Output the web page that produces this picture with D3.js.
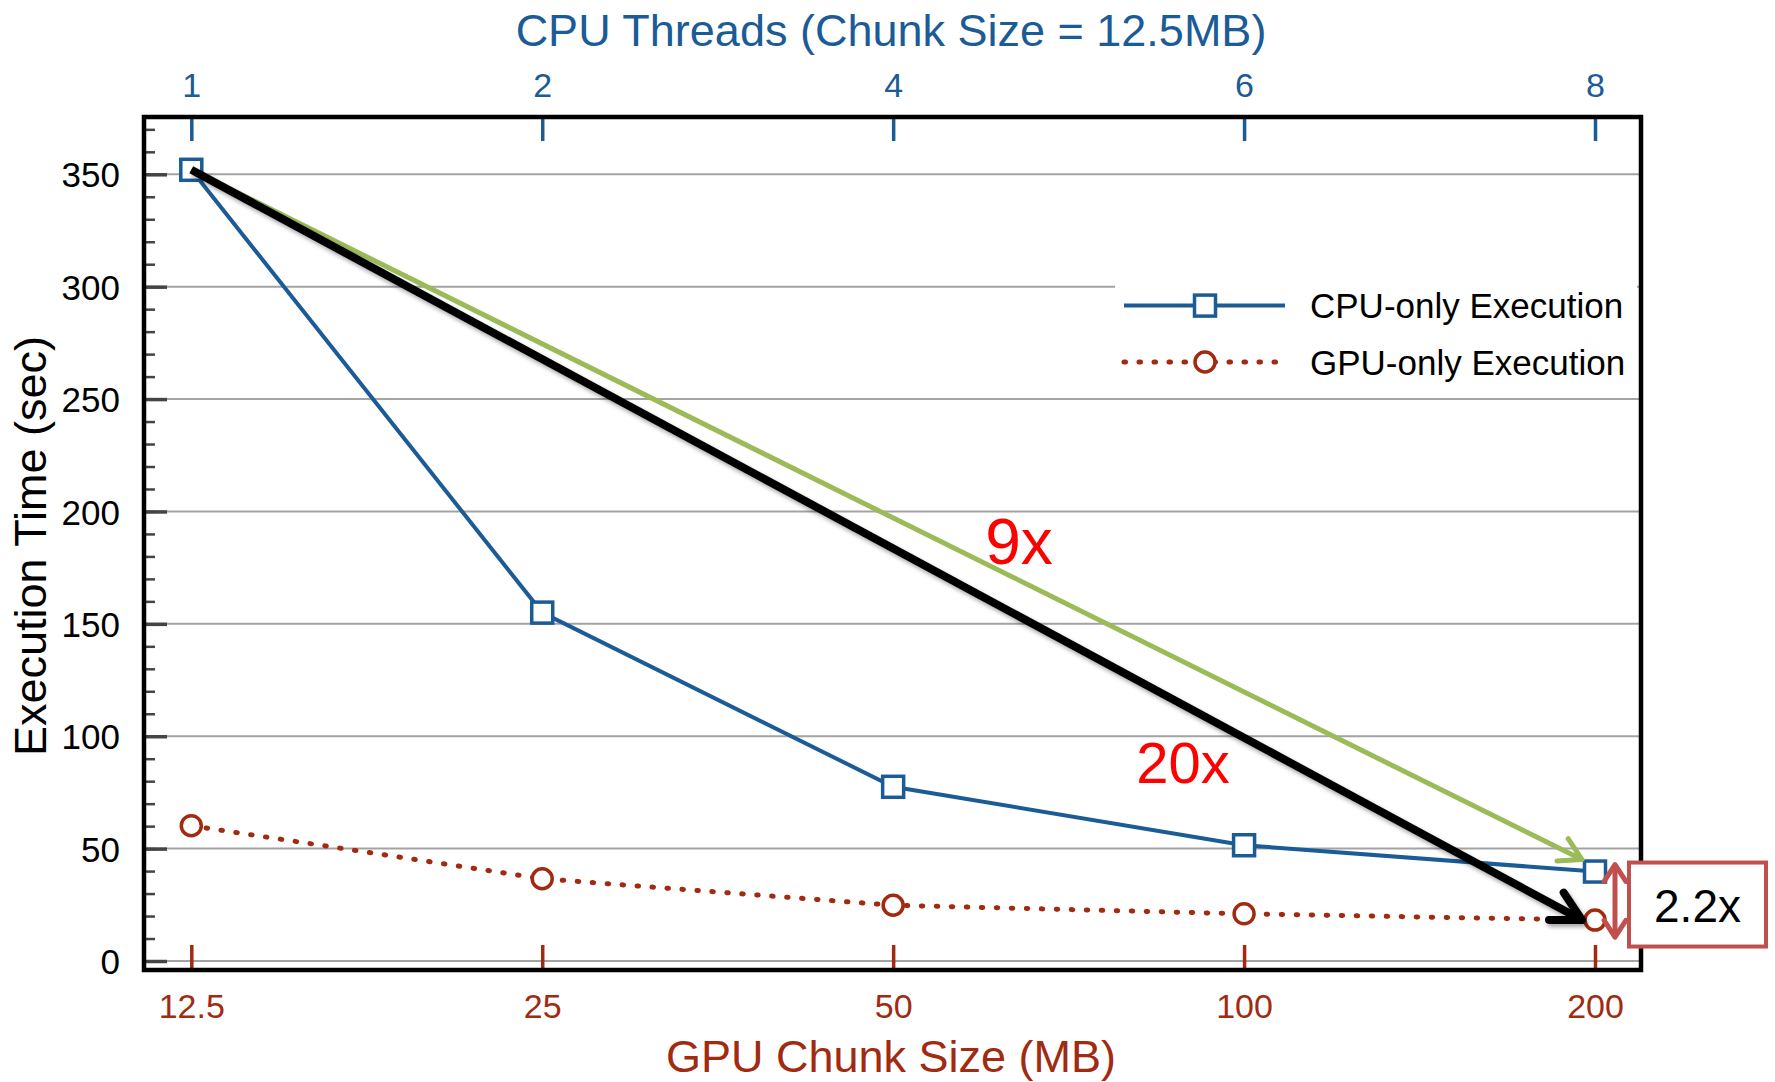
<!DOCTYPE html>
<html>
<head>
<meta charset="utf-8">
<script src="https://cdn.jsdelivr.net/npm/d3@7"></script>
<style>
  html, body { margin: 0; padding: 0; background: #ffffff; }
  svg { display: block; }
  text { font-family: "Liberation Sans", Arial, Helvetica, sans-serif; }
</style>
</head>
<body>
<svg id="chart" width="1775" height="1082"></svg>
<script>
// ---- data ----
const gpuChunkSizes = ["12.5", "25", "50", "100", "200"];   // bottom axis
const cpuThreads    = ["1", "2", "4", "6", "8"];            // top axis
const cpuOnlyTimes  = [352, 155, 77.5, 51.5, 39.8];         // CPU-only Execution (sec)
const gpuOnlyTimes  = [60.2, 36.6, 24.8, 21.0, 18.2];       // GPU-only Execution (sec)
const yMajorTicks   = [0, 50, 100, 150, 200, 250, 300, 350];
const yMinorTicks   = d3.range(0, 371, 10);
const seriesNames   = ["CPU-only Execution", "GPU-only Execution"];
const annotations   = { cpuSpeedup: "9x", gpuSpeedup: "20x", gap: "2.2x" };

// ---- layout ----
const frame = { left: 144, right: 1641, top: 117, bottom: 970 };
const blue = "#1b5b96", brown = "#a12a10", green = "#9bbb59", redA = "#c0504d";

const svg = d3.select("#chart");
const defs = svg.append("defs");
const f = defs.append("filter").attr("id", "shadow").attr("x", "-10%").attr("y", "-10%").attr("width", "120%").attr("height", "120%");
f.append("feDropShadow").attr("dx", 2).attr("dy", 3).attr("stdDeviation", 2).attr("flood-color", "#000").attr("flood-opacity", 0.35);

const xBottom = d3.scalePoint().domain(gpuChunkSizes).range([191.3, 1595]);
const xTop = d3.scalePoint().domain(cpuThreads).range([191.3, 1595]);
const y = d3.scaleLinear().domain([0, 350]).range([961, 174.3]);

// gridlines
svg.append("g").selectAll("line").data(yMajorTicks).join("line")
  .attr("x1", frame.left).attr("x2", frame.right)
  .attr("y1", d => y(d)).attr("y2", d => y(d))
  .attr("stroke", "#a3a3a3").attr("stroke-width", 2);

// legend background (hides the gridline behind it)
const legend = svg.append("g");
legend.append("rect").attr("x", 1115).attr("y", 268).attr("width", 522).attr("height", 124).attr("fill", "#fff");

// left axis major + minor (inward ticks)
const gLeftMinor = svg.append("g").attr("transform", `translate(${frame.left},0)`)
  .call(d3.axisLeft(y).tickValues(yMinorTicks).tickSize(-11).tickFormat(""));
gLeftMinor.select(".domain").remove();
gLeftMinor.selectAll("line").attr("stroke", "#444").attr("stroke-width", 2.5);

const gLeft = svg.append("g").attr("transform", `translate(${frame.left},0)`)
  .call(d3.axisLeft(y).tickValues(yMajorTicks).tickSize(-23).tickPadding(24));
gLeft.select(".domain").remove();
gLeft.selectAll("line").attr("stroke", "#444").attr("stroke-width", 3.5);
gLeft.selectAll("text").attr("font-size", 35).attr("fill", "#000").attr("font-family", "Liberation Sans, Arial, sans-serif").attr("dy", "0.36em");

// top axis (CPU threads)
const gTop = svg.append("g").attr("transform", `translate(0,${frame.top})`)
  .call(d3.axisTop(xTop).tickSize(-24).tickPadding(20));
gTop.select(".domain").remove();
gTop.selectAll("line").attr("stroke", blue).attr("stroke-width", 3.5);
gTop.selectAll("text").attr("font-size", 34).attr("fill", blue).attr("font-family", "Liberation Sans, Arial, sans-serif");

// bottom axis (GPU chunk size)
const gBottom = svg.append("g").attr("transform", `translate(0,${frame.bottom})`)
  .call(d3.axisBottom(xBottom).tickSize(-25).tickPadding(24));
gBottom.select(".domain").remove();
gBottom.selectAll("line").attr("stroke", brown).attr("stroke-width", 3.5);
gBottom.selectAll("text").attr("font-size", 34).attr("fill", brown).attr("font-family", "Liberation Sans, Arial, sans-serif");

// frame
svg.append("rect").attr("x", frame.left).attr("y", frame.top)
  .attr("width", frame.right - frame.left).attr("height", frame.bottom - frame.top)
  .attr("fill", "none").attr("stroke", "#000").attr("stroke-width", 4.5);

// titles
svg.append("text").attr("x", 891).attr("y", 46).attr("text-anchor", "middle")
  .attr("font-size", 45).attr("fill", blue).text("CPU Threads (Chunk Size = 12.5MB)");
svg.append("text").attr("x", 891).attr("y", 1072).attr("text-anchor", "middle")
  .attr("font-size", 45).attr("fill", brown).text("GPU Chunk Size (MB)");
svg.append("text").attr("transform", "translate(46,546) rotate(-90)").attr("text-anchor", "middle")
  .attr("font-size", 45).attr("fill", "#000").text("Execution Time (sec)");

// series
const cpuData = cpuOnlyTimes.map((v, i) => ({ x: xTop(cpuThreads[i]), y: y(v) }));
const gpuData = gpuOnlyTimes.map((v, i) => ({ x: xBottom(gpuChunkSizes[i]), y: y(v) }));
const line = d3.line().x(d => d.x).y(d => d.y);

svg.append("path").datum(cpuData).attr("d", line).attr("fill", "none")
  .attr("stroke", blue).attr("stroke-width", 4);
svg.append("path").datum(gpuData).attr("d", line).attr("fill", "none")
  .attr("stroke", brown).attr("stroke-width", 5).attr("stroke-linecap", "round")
  .attr("stroke-dasharray", "1.5 13.5");

const sq = 21;
svg.append("g").selectAll("rect").data(cpuData).join("rect")
  .attr("x", d => d.x - sq / 2).attr("y", d => d.y - sq / 2).attr("width", sq).attr("height", sq)
  .attr("fill", "#fff").attr("stroke", blue).attr("stroke-width", 3.5);
svg.append("g").selectAll("circle").data(gpuData).join("circle")
  .attr("cx", d => d.x).attr("cy", d => d.y).attr("r", 10)
  .attr("fill", "#fff").attr("stroke", brown).attr("stroke-width", 3.5);

// legend
const legY = [305.6, 362];
legend.append("line").attr("x1", 1124).attr("x2", 1285).attr("y1", legY[0]).attr("y2", legY[0])
  .attr("stroke", blue).attr("stroke-width", 4);
legend.append("rect").attr("x", 1205 - sq / 2).attr("y", legY[0] - sq / 2).attr("width", sq).attr("height", sq)
  .attr("fill", "#fff").attr("stroke", blue).attr("stroke-width", 3.5);
legend.append("line").attr("x1", 1124).attr("x2", 1285).attr("y1", legY[1]).attr("y2", legY[1])
  .attr("stroke", brown).attr("stroke-width", 5).attr("stroke-linecap", "round").attr("stroke-dasharray", "1.5 13.5");
legend.append("circle").attr("cx", 1205).attr("cy", legY[1]).attr("r", 10)
  .attr("fill", "#fff").attr("stroke", brown).attr("stroke-width", 3.5);
seriesNames.forEach((n, i) => {
  legend.append("text").attr("x", 1310).attr("y", legY[i]).attr("dy", "0.36em")
    .attr("font-size", 35).attr("fill", "#000").text(n);
});

// ---- annotations ----
function chevron(tip, from, len, angleDeg) {
  const a = Math.atan2(from[1] - tip[1], from[0] - tip[0]);
  const r = angleDeg * Math.PI / 180;
  const p1 = [tip[0] + len * Math.cos(a + r), tip[1] + len * Math.sin(a + r)];
  const p2 = [tip[0] + len * Math.cos(a - r), tip[1] + len * Math.sin(a - r)];
  return `M${p1[0]},${p1[1]}L${tip[0]},${tip[1]}L${p2[0]},${p2[1]}`;
}
const start = [cpuData[0].x, cpuData[0].y];
const last = cpuData.length - 1;
const greenTip = [cpuData[last].x - 13, cpuData[last].y - 12];
const blackTip = [gpuData[last].x - 13, gpuData[last].y];

const gArrow = svg.append("g");
gArrow.append("line").attr("x1", start[0]).attr("y1", start[1]).attr("x2", greenTip[0]).attr("y2", greenTip[1])
  .attr("stroke", green).attr("stroke-width", 5);
gArrow.append("path").attr("d", chevron(greenTip, start, 25, 30)).attr("fill", "none")
  .attr("stroke", green).attr("stroke-width", 5).attr("stroke-linecap", "round").attr("stroke-linejoin", "round");

const bArrow = svg.append("g").attr("filter", "url(#shadow)");
bArrow.append("line").attr("x1", start[0]).attr("y1", start[1]).attr("x2", blackTip[0]).attr("y2", blackTip[1])
  .attr("stroke", "#000").attr("stroke-width", 8);
bArrow.append("path").attr("d", chevron(blackTip, start, 33, 28)).attr("fill", "none")
  .attr("stroke", "#000").attr("stroke-width", 8).attr("stroke-linecap", "round").attr("stroke-linejoin", "round");

svg.append("text").attr("x", 1019).attr("y", 564).attr("text-anchor", "middle")
  .attr("font-family", "Open Sans, Noto Sans, sans-serif").attr("font-size", 64).attr("fill", "#ff0000")
  .text(annotations.cpuSpeedup);
svg.append("text").attr("x", 1183).attr("y", 783).attr("text-anchor", "middle")
  .attr("font-family", "Open Sans, Noto Sans, sans-serif").attr("font-size", 58).attr("fill", "#ff0000")
  .text(annotations.gpuSpeedup);

// 2.2x double arrow + box
const dx = cpuData[last].x + 20;
const dTop = [dx, cpuData[last].y - 7], dBot = [dx, gpuData[last].y + 17];
svg.append("line").attr("x1", dTop[0]).attr("y1", dTop[1]).attr("x2", dBot[0]).attr("y2", dBot[1])
  .attr("stroke", redA).attr("stroke-width", 5);
svg.append("path").attr("d", chevron(dTop, dBot, 20, 33) + chevron(dBot, dTop, 20, 33)).attr("fill", "none")
  .attr("stroke", redA).attr("stroke-width", 5).attr("stroke-linecap", "round").attr("stroke-linejoin", "round");

const boxX = cpuData[last].x + 34, boxY = cpuData[last].y - 9;
svg.append("rect").attr("x", boxX).attr("y", boxY).attr("width", 137).attr("height", 84)
  .attr("fill", "#fff").attr("stroke", redA).attr("stroke-width", 4);
svg.append("text").attr("x", boxX + 68.5).attr("y", boxY + 59).attr("text-anchor", "middle")
  .attr("font-family", "Open Sans, Noto Sans, sans-serif").attr("font-size", 46).attr("fill", "#000")
  .text(annotations.gap);
</script>
</body>
</html>
